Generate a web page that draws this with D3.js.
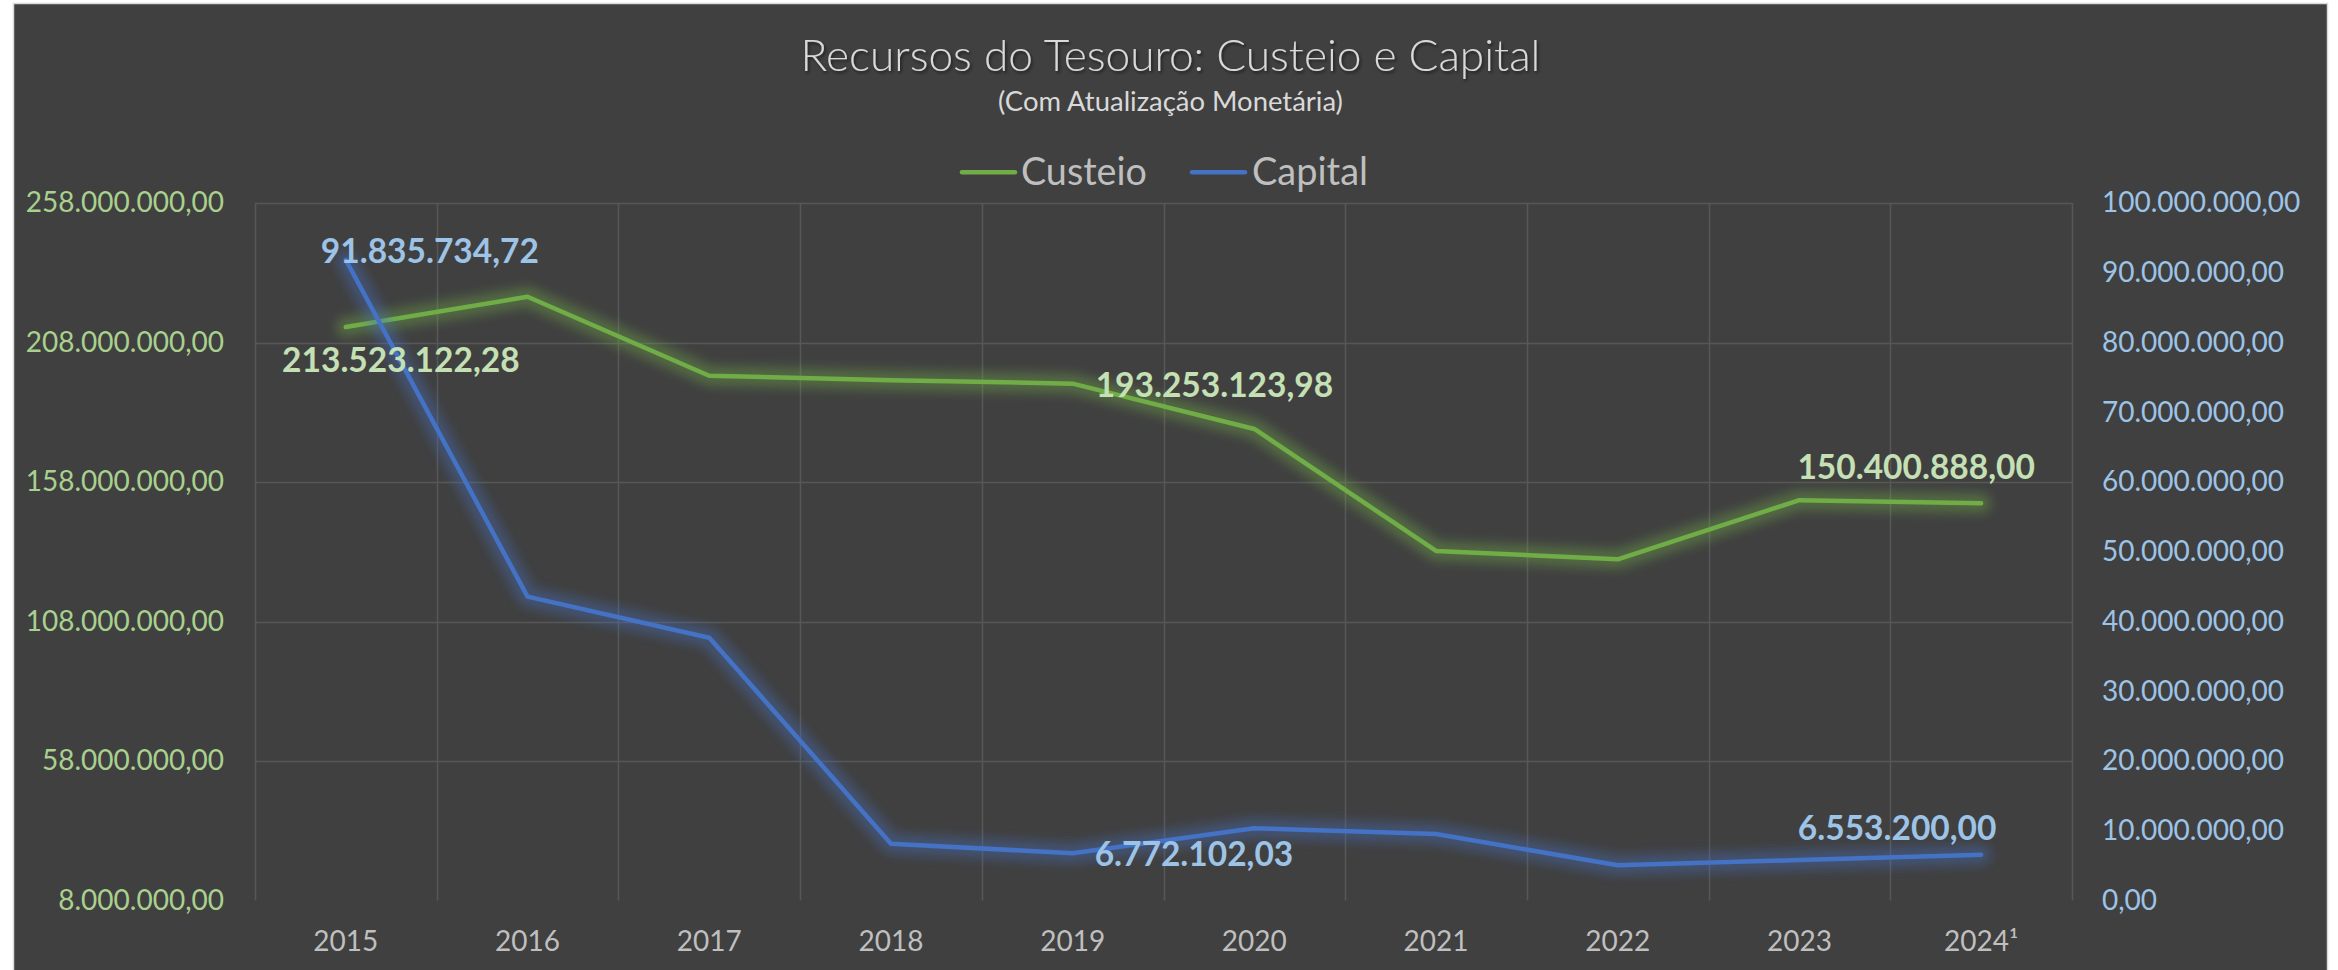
<!DOCTYPE html>
<html>
<head>
<meta charset="utf-8">
<script src="https://cdn.jsdelivr.net/npm/d3@7"></script>
<style>
  html, body { margin: 0; padding: 0; background: #ffffff; }
  svg { display: block; }
  text { font-family: Lato, "Open Sans", "Noto Sans", sans-serif; }
</style>
</head>
<body>
<svg id="chart" width="2338" height="970"></svg>
<script>
// ---------- DATA ----------
const years = ["2015", "2016", "2017", "2018", "2019", "2020", "2021", "2022", "2023", "2024¹"];
const custeio = [213523122.28, 224400000, 196100000, 194500000, 193253123.98, 177000000, 133300000, 130300000, 151500000, 150400888.00];
const capital = [91835734.72, 43560000, 37680000, 8150000, 6772102.03, 10350000, 9530000, 5050000, 5800000, 6553200.00];
const leftTicks = [8000000, 58000000, 108000000, 158000000, 208000000, 258000000];
const rightTicks = [0, 10000000, 20000000, 30000000, 40000000, 50000000, 60000000, 70000000, 80000000, 90000000, 100000000];
const seriesNames = ["Custeio", "Capital"];
const titleText = "Recursos do Tesouro: Custeio e Capital";
const subtitleText = "(Com Atualização Monetária)";
// indices of labelled points
const labelledCusteio = [0, 4, 9];
const labelledCapital = [0, 4, 9];

// ---------- LAYOUT / STYLE ----------
const plot = { left: 255, right: 2072, top: 203, bottom: 900.5 };
const colors = {
  bg: "#404040", grid: "#575757", custeio: "#70AD47", capital: "#4472C4",
  leftAxis: "#A9D18E", rightAxis: "#9DC3E6", xAxis: "#BFBFBF",
  title: "#D9D9D9", legend: "#BFBFBF", custeioLabel: "#C5E0B4", capitalLabel: "#9DC3E6"
};
const labelOffsets = {
  custeio: { 0: { dx: 55, dy: 44.5, anchor: "middle" }, 4: { dx: 23, dy: 13, anchor: "start" }, 9: { dx: -65, dy: -24.3, anchor: "middle" } },
  capital: { 0: { dx: 84, dy: 3.5, anchor: "middle" }, 4: { dx: 22, dy: 12.7, anchor: "start" }, 9: { dx: -84, dy: -15, anchor: "middle" } }
};

const loc = d3.formatLocale({ decimal: ",", thousands: ".", grouping: [3], currency: ["R$", ""] });
const fmt = loc.format(",.2f");

const svg = d3.select("#chart");
const defs = svg.append("defs");
const glow = defs.append("filter").attr("id", "glow")
  .attr("x", "-10%").attr("y", "-30%").attr("width", "120%").attr("height", "160%");
glow.append("feGaussianBlur").attr("stdDeviation", 5.5);
const shadow = defs.append("filter").attr("id", "shadow")
  .attr("x", "-5%").attr("y", "-20%").attr("width", "110%").attr("height", "150%");
shadow.append("feDropShadow").attr("dx", 1.5).attr("dy", 2).attr("stdDeviation", 1.5)
  .attr("flood-color", "#000").attr("flood-opacity", 0.55);

// fit a text element's font size so its width matches a target
function fitWidth(sel, target) {
  const w = sel.node().getComputedTextLength();
  const fs = parseFloat(sel.attr("font-size"));
  if (w > 0) sel.attr("font-size", fs * target / w);
  return sel;
}

// background panel
svg.append("rect").attr("x", 13.5).attr("y", 3.5).attr("width", 2314).attr("height", 990)
  .attr("fill", colors.bg).attr("stroke", "#D9D9D9").attr("stroke-width", 1.5);

// scales
const x = d3.scaleBand().domain(years).range([plot.left, plot.right]).padding(0);
const cx = d => x(d) + x.bandwidth() / 2;
const yL = d3.scaleLinear().domain([8000000, 258000000]).range([plot.bottom, plot.top]);
const yR = d3.scaleLinear().domain([0, 100000000]).range([plot.bottom, plot.top]);

// gridlines
const grid = svg.append("g");
grid.selectAll("line.h").data(leftTicks.slice(1)).join("line")
  .attr("x1", plot.left).attr("x2", plot.right)
  .attr("y1", d => Math.round(yL(d)) + 0.5).attr("y2", d => Math.round(yL(d)) + 0.5)
  .attr("stroke", colors.grid).attr("stroke-width", 1.5);
const bounds = years.map(d => x(d)).concat([plot.right]);
grid.selectAll("line.v").data(bounds).join("line")
  .attr("x1", d => Math.round(d) + 0.5).attr("x2", d => Math.round(d) + 0.5)
  .attr("y1", plot.top).attr("y2", plot.bottom)
  .attr("stroke", colors.grid).attr("stroke-width", 1.5);

// axes
const axL = svg.append("g").attr("transform", `translate(${plot.left},0)`)
  .call(d3.axisLeft(yL).tickValues(leftTicks).tickFormat(fmt).tickSize(0).tickPadding(31));
axL.select(".domain").remove();
axL.selectAll("text").attr("fill", colors.leftAxis).attr("font-size", 28).attr("font-family", "Lato");

const axR = svg.append("g").attr("transform", `translate(${plot.right},0)`)
  .call(d3.axisRight(yR).tickValues(rightTicks).tickFormat(fmt).tickSize(0).tickPadding(30));
axR.select(".domain").remove();
axR.selectAll("text").attr("fill", colors.rightAxis).attr("font-size", 28).attr("font-family", "Lato");

const axX = svg.append("g").attr("transform", `translate(0,${plot.bottom})`)
  .call(d3.axisBottom(x).tickSize(0).tickPadding(31));
axX.select(".domain").remove();
axX.selectAll("text").attr("fill", colors.xAxis).attr("font-size", 28).attr("font-family", "Lato");

// lines
const lineL = d3.line().x((d, i) => cx(years[i])).y(d => yL(d));
const lineR = d3.line().x((d, i) => cx(years[i])).y(d => yR(d));

function drawSeries(values, gen, color) {
  const g = svg.append("g");
  g.append("path").attr("d", gen(values)).attr("fill", "none")
    .attr("stroke", color).attr("stroke-width", 20).attr("stroke-opacity", 0.38)
    .attr("stroke-linejoin", "round").attr("stroke-linecap", "round").attr("filter", "url(#glow)");
  g.append("path").attr("d", gen(values)).attr("fill", "none")
    .attr("stroke", color).attr("stroke-width", 4.5)
    .attr("stroke-linejoin", "round").attr("stroke-linecap", "round");
}
drawSeries(custeio, lineL, colors.custeio);
drawSeries(capital, lineR, colors.capital);

// data labels
const lbl = svg.append("g").attr("font-family", "Lato").attr("font-weight", 700).attr("font-size", 33.5);
labelledCusteio.forEach(i => {
  const o = labelOffsets.custeio[i];
  lbl.append("text").attr("x", cx(years[i]) + o.dx).attr("y", yL(custeio[i]) + o.dy)
    .attr("text-anchor", o.anchor).attr("fill", colors.custeioLabel).text(fmt(custeio[i]));
});
labelledCapital.forEach(i => {
  const o = labelOffsets.capital[i];
  lbl.append("text").attr("x", cx(years[i]) + o.dx).attr("y", yR(capital[i]) + o.dy)
    .attr("text-anchor", o.anchor).attr("fill", colors.capitalLabel).text(fmt(capital[i]));
});

// title
const t1 = svg.append("text").attr("x", 1170.5).attr("y", 70.7).attr("text-anchor", "middle")
  .attr("font-size", 44).attr("font-weight", 300).attr("fill", colors.title)
  .attr("filter", "url(#shadow)").text(titleText);
fitWidth(t1, 740);
const t2 = svg.append("text").attr("x", 1170.5).attr("y", 110.7).attr("text-anchor", "middle")
  .attr("font-size", 27).attr("fill", colors.title).text(subtitleText);
fitWidth(t2, 345);

// legend
const legend = svg.append("g");
const legendItems = [
  { name: seriesNames[0], color: colors.custeio, lx: 962, tx: 1021, w: 126 },
  { name: seriesNames[1], color: colors.capital, lx: 1192, tx: 1252, w: 116 }
];
legendItems.forEach(it => {
  legend.append("line").attr("x1", it.lx).attr("x2", it.lx + 53).attr("y1", 172.3).attr("y2", 172.3)
    .attr("stroke", it.color).attr("stroke-width", 4.5).attr("stroke-linecap", "round");
  const t = legend.append("text").attr("x", it.tx).attr("y", 185).attr("font-size", 38)
    .attr("fill", colors.legend).text(it.name);
  fitWidth(t, it.w);
});
</script>
</body>
</html>
